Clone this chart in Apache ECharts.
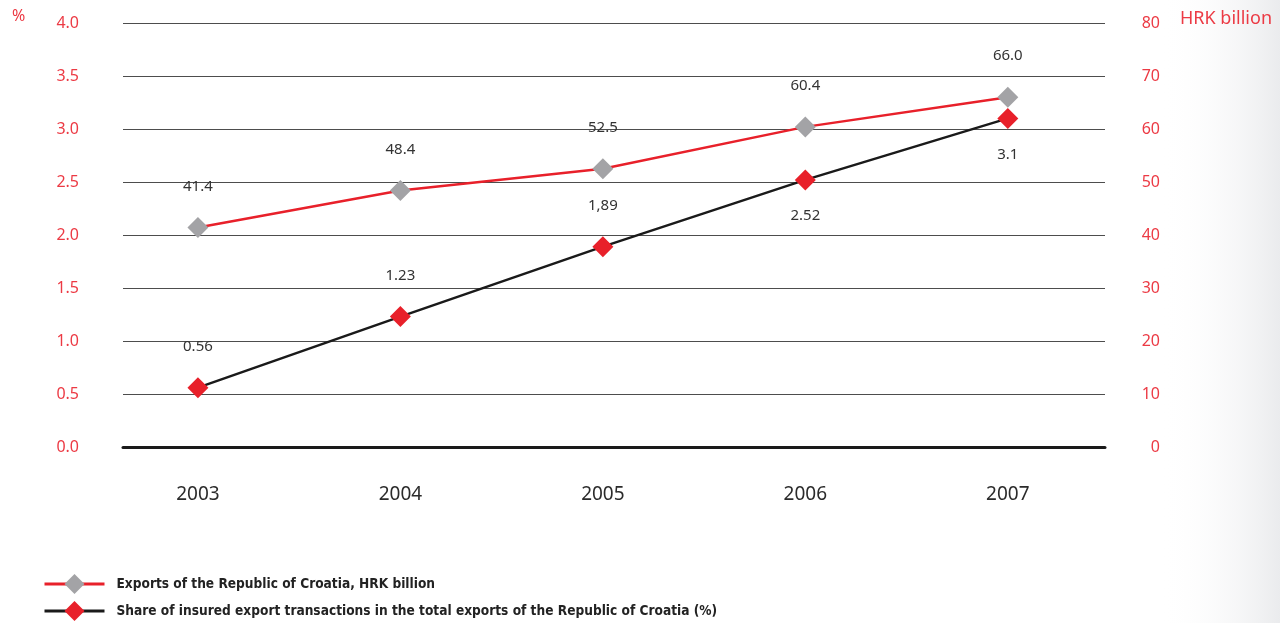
<!DOCTYPE html>
<html>
<head>
<meta charset="utf-8">
<script src="https://cdn.jsdelivr.net/npm/echarts@6/dist/echarts.min.js"></script>
<style>
  html, body { margin: 0; padding: 0; background: #fff; }
  #chart { width: 1280px; height: 623px; }
</style>
</head>
<body>
<div id="chart"></div>
<script>
// Years on the horizontal axis
const years = [2003, 2004, 2005, 2006, 2007];
// Exports of Croatia, HRK billion (right axis)
const exportsHrk = [41.4, 48.4, 52.5, 60.4, 66.0];
const exportsLabels = ['41.4', '48.4', '52.5', '60.4', '66.0'];
// Share of insured export transactions, % (left axis)
const insuredShare = [0.56, 1.23, 1.89, 2.52, 3.1];
const insuredLabels = ['0.56', '1.23', '1,89', '2.52', '3.1'];
// Labels placed under the marker for the insured share series
const insuredBelow = [false, false, false, true, true];

const NAME_EXPORTS = 'Exports of the Republic of Croatia, HRK billion';
const NAME_SHARE = 'Share of insured export transactions in the total exports of the Republic of Croatia (%)';

const RED = '#e8202a';
const GREY = '#a3a3a6';
const AXIS_RED = '#ec3a44';
const tickFont = "'Noto Sans', 'DejaVu Sans', sans-serif";
const legendFont = "'DejaVu Sans Condensed', 'DejaVu Sans', sans-serif";

const exportsData = years.map((y, i) => ({
  value: [y, exportsHrk[i]],
  label: { formatter: exportsLabels[i] }
}));
const insuredData = years.map((y, i) => ({
  value: [y, insuredShare[i]],
  label: {
    formatter: insuredLabels[i],
    position: insuredBelow[i] ? 'bottom' : 'top',
    distance: insuredBelow[i] ? 18 : 23
  }
}));

const legendBase = {
  orient: 'horizontal',
  left: 43,
  padding: 0,
  itemWidth: 60,
  itemHeight: 25,
  itemGap: 10,
  selectedMode: false,
  lineStyle: { width: 3 },
  textStyle: { fontFamily: legendFont, fontWeight: 'bold', fontSize: 13.6, color: '#222', padding: [0, 0, 0, 7] }
};

const chart = echarts.init(document.getElementById('chart'), null, { renderer: 'canvas' });
chart.setOption({
  animation: false,
  backgroundColor: '#ffffff',
  graphic: [
    {
      type: 'rect', silent: true, z: -10,
      shape: { x: 1160, y: 0, width: 120, height: 623 },
      style: {
        fill: new echarts.graphic.LinearGradient(0, 0, 1, 0, [
          { offset: 0, color: 'rgba(255,255,255,0)' },
          { offset: 1, color: '#eaebed' }
        ])
      }
    },
    {
      type: 'text', left: 12, top: 8,
      style: { text: '%', fill: AXIS_RED, font: "16px " + tickFont }
    },
    {
      type: 'text', left: 1180, top: 10,
      style: { text: 'HRK billion', fill: AXIS_RED, font: "18px " + tickFont }
    }
  ],
  grid: { left: 123, right: 175, top: 23, bottom: 176 },
  legend: [
    Object.assign({}, legendBase, { top: 574, data: [NAME_EXPORTS] }),
    Object.assign({}, legendBase, { top: 601, data: [NAME_SHARE] })
  ],
  xAxis: {
    type: 'value',
    min: 2002.63,
    max: 2007.48,
    splitLine: { show: false },
    axisLine: { show: true, lineStyle: { color: '#1a1a1a', width: 3 } },
    axisTick: { show: false },
    axisLabel: {
      customValues: years,
      formatter: v => String(v),
      margin: 38,
      color: '#2b2b2b',
      fontSize: 19,
      fontFamily: tickFont
    }
  },
  yAxis: [
    {
      type: 'value',
      min: 0, max: 4, interval: 0.5,
      axisLine: { show: false },
      axisTick: { show: false },
      axisLabel: {
        formatter: v => v.toFixed(1),
        color: AXIS_RED, fontSize: 16, fontFamily: tickFont, margin: 44
      },
      splitLine: { lineStyle: { color: '#4d4d4d', width: 1 } }
    },
    {
      type: 'value',
      min: 0, max: 80, interval: 10,
      axisLine: { show: false },
      axisTick: { show: false },
      splitLine: { show: false },
      axisLabel: {
        color: AXIS_RED, fontSize: 16, fontFamily: tickFont,
        align: 'right', margin: 55, padding: [0, 0, 6, 0]
      }
    }
  ],
  series: [
    {
      name: NAME_EXPORTS,
      type: 'line',
      yAxisIndex: 1,
      data: exportsData,
      symbol: 'diamond',
      symbolSize: 21,
      lineStyle: { color: RED, width: 2.5 },
      itemStyle: { color: GREY },
      label: {
        show: true, position: 'top', distance: 23,
        color: '#333', fontSize: 15, fontFamily: tickFont
      },
      z: 3
    },
    {
      name: NAME_SHARE,
      type: 'line',
      yAxisIndex: 0,
      data: insuredData,
      symbol: 'diamond',
      symbolSize: 21,
      lineStyle: { color: '#1a1a1a', width: 2.5 },
      itemStyle: { color: RED },
      label: {
        show: true,
        color: '#333', fontSize: 15, fontFamily: tickFont
      },
      z: 4
    }
  ]
});
</script>
</body>
</html>
